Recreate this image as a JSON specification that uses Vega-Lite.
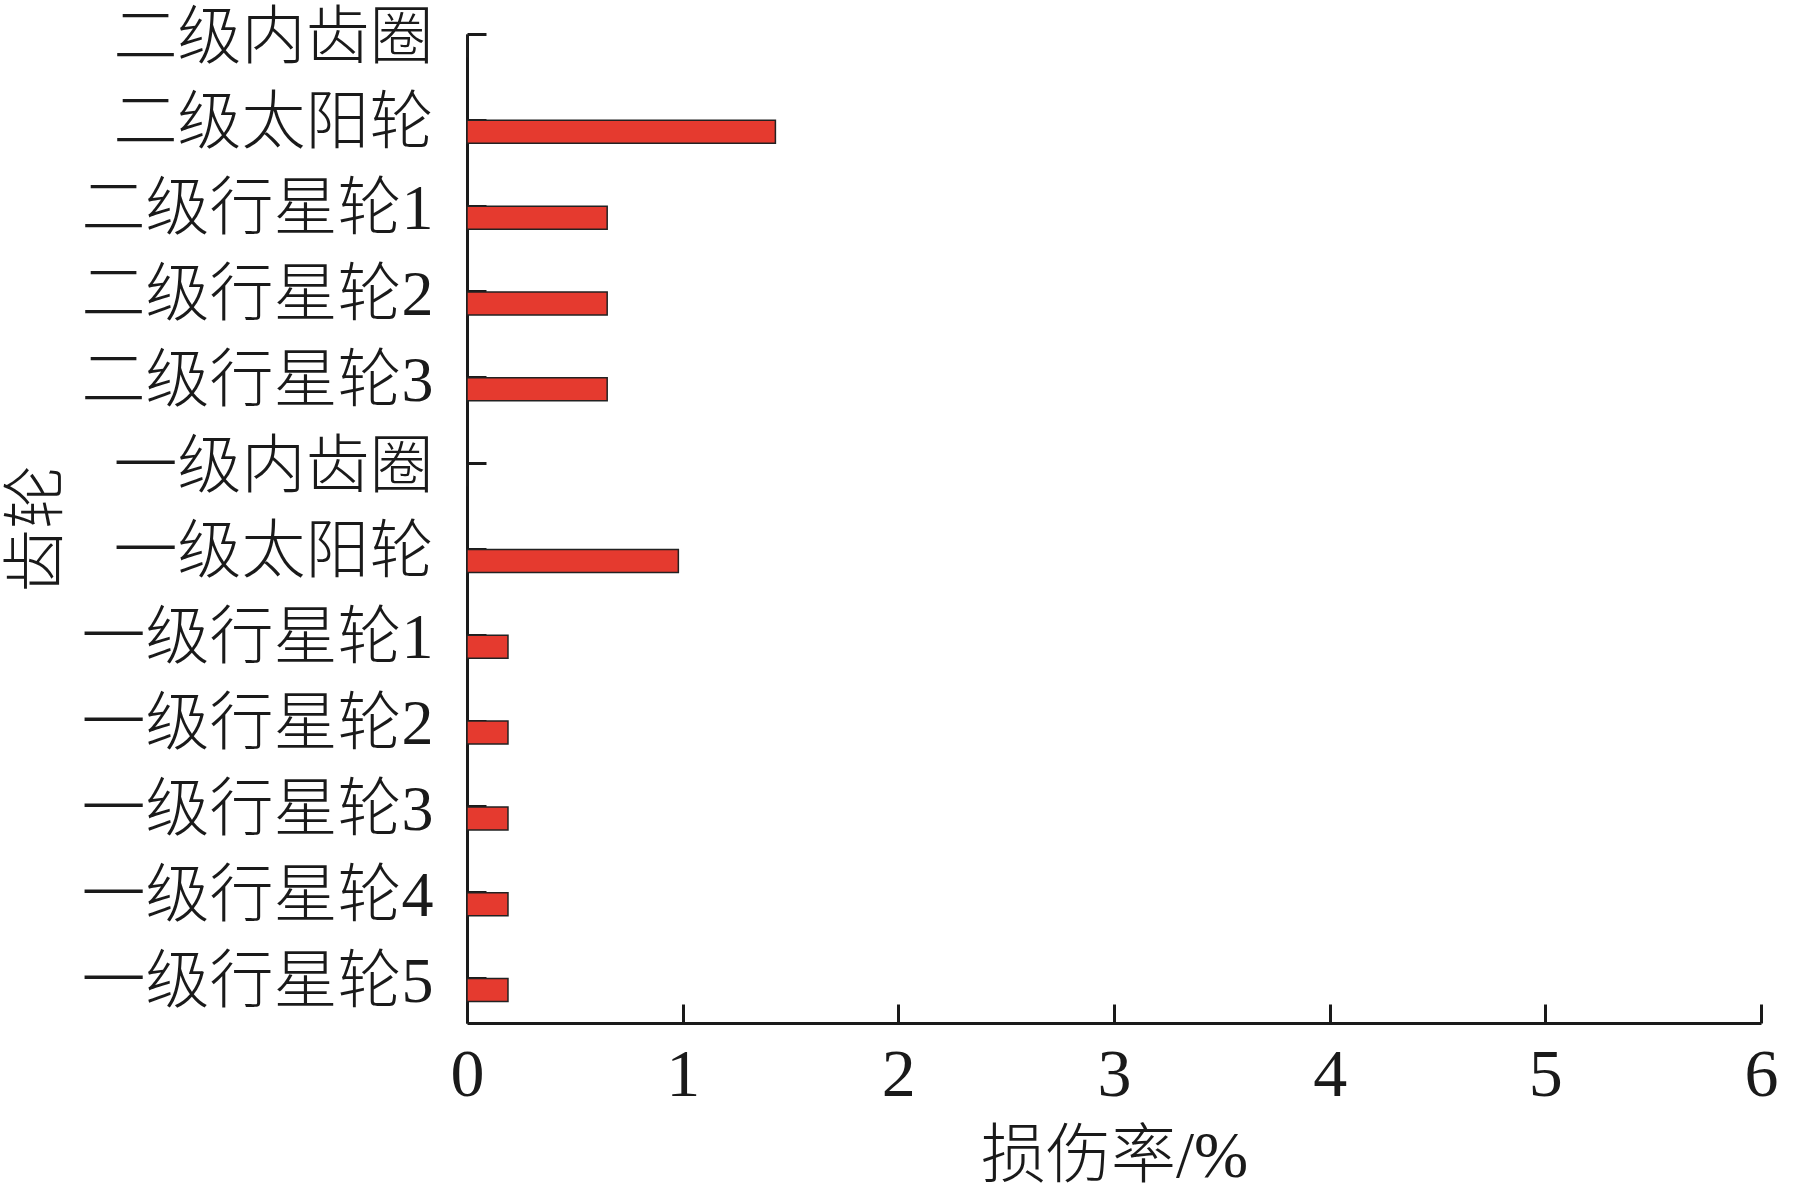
{
  "$schema": "https://vega.github.io/schema/vega-lite/v6.json",
  "autosize": "none",
  "width": 1294,
  "height": 989,
  "padding": {"left": 467, "top": 34, "right": 35, "bottom": 177},
  "background": "white",
  "config": {
    "view": {"stroke": null},
    "axis": {
      "domainColor": "#1a1a1a",
      "domainWidth": 3,
      "tickColor": "#1a1a1a",
      "tickWidth": 3,
      "tickSize": -19,
      "grid": false,
      "labelColor": "#1a1a1a",
      "titleColor": "#1a1a1a",
      "labelFont": "Liberation Serif, Noto Sans CJK SC",
      "titleFont": "Liberation Serif, Noto Sans CJK SC",
      "labelFontWeight": 300,
      "titleFontWeight": 300,
      "labelLimit": 0
    }
  },
  "data": {
    "values": [
      {"gear": "二级内齿圈", "damage": 0},
      {"gear": "二级太阳轮", "damage": 1.43},
      {"gear": "二级行星轮1", "damage": 0.65},
      {"gear": "二级行星轮2", "damage": 0.65},
      {"gear": "二级行星轮3", "damage": 0.65},
      {"gear": "一级内齿圈", "damage": 0},
      {"gear": "一级太阳轮", "damage": 0.98},
      {"gear": "一级行星轮1", "damage": 0.19},
      {"gear": "一级行星轮2", "damage": 0.19},
      {"gear": "一级行星轮3", "damage": 0.19},
      {"gear": "一级行星轮4", "damage": 0.19},
      {"gear": "一级行星轮5", "damage": 0.19}
    ]
  },
  "mark": {
    "type": "bar",
    "orient": "horizontal",
    "size": 23,
    "yOffset": 12,
    "fill": "#e53a2f",
    "stroke": "#222222",
    "strokeWidth": 1.5
  },
  "encoding": {
    "y": {
      "field": "gear",
      "type": "nominal",
      "sort": null,
      "scale": {"type": "point", "padding": 0.262, "align": 0},
      "axis": {
        "title": "齿轮",
        "labelFontSize": 64,
        "labelPadding": 53,
        "labelOffset": 4,
        "titleFontSize": 64,
        "titlePadding": 198
      }
    },
    "x": {
      "field": "damage",
      "type": "quantitative",
      "scale": {"domain": [0, 6], "nice": false},
      "axis": {
        "title": "损伤率/%",
        "values": [0, 1, 2, 3, 4, 5, 6],
        "labelFontSize": 68,
        "labelPadding": 37,
        "labelFlush": false,
        "titleFontSize": 65,
        "titlePadding": 16
      }
    }
  }
}
